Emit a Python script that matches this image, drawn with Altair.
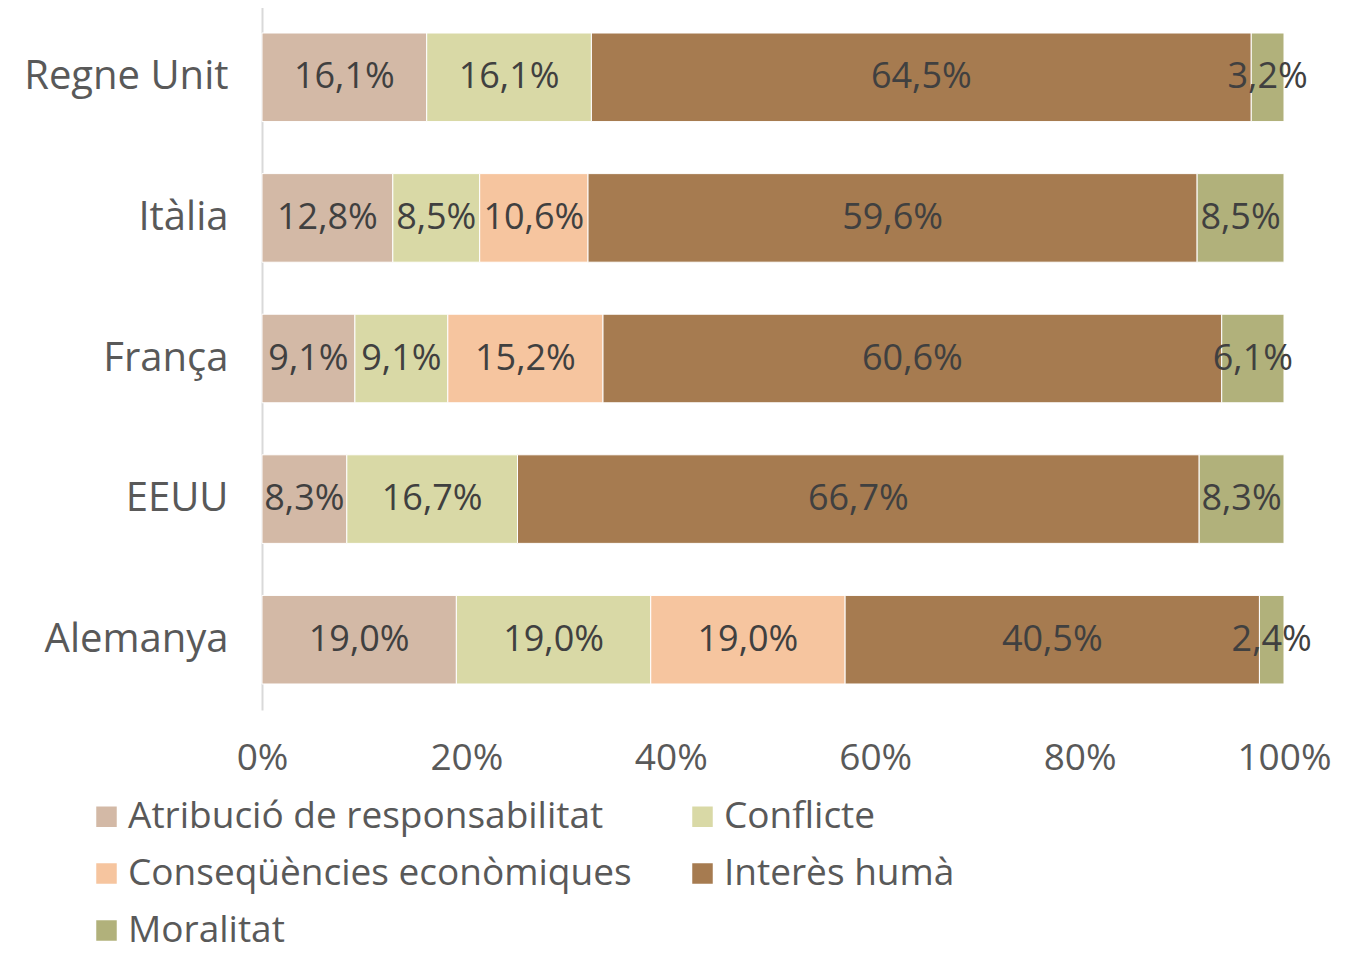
import altair as alt
import pandas as pd

countries = ["Regne Unit", "Itàlia", "França", "EEUU", "Alemanya"]
series = ["Atribució de responsabilitat", "Conflicte", "Conseqüències econòmiques", "Interès humà", "Moralitat"]
colors = ["#D3B9A6", "#D9D9A6", "#F6C59F", "#A67B50", "#B1B17B"]

atribucio = [16.1, 12.8, 9.1, 8.3, 19.0]
conflicte = [16.1, 8.5, 9.1, 16.7, 19.0]
consequencies = [0.0, 10.6, 15.2, 0.0, 19.0]
interes = [64.5, 59.6, 60.6, 66.7, 40.5]
moralitat = [3.2, 8.5, 6.1, 8.3, 2.4]

cols = [atribucio, conflicte, consequencies, interes, moralitat]
rows = []
for si, (s, vals) in enumerate(zip(series, cols)):
    for ci, (c, v) in enumerate(zip(countries, vals)):
        if v > 0:
            rows.append({"country": c, "series": s, "order": si, "value": v,
                         "label": f"{v:.1f}%".replace(".", ",")})
df = pd.DataFrame(rows)

FONT = "Open Sans"

base = alt.Chart(df).transform_stack(
    stack="value", groupby=["country"], as_=["v0", "v1"],
    offset="normalize", sort=[alt.SortField("order")]
).transform_calculate(mid="(datum.v0 + datum.v1) / 2")

yenc = alt.Y("country:N", sort=countries, title=None,
             scale=alt.Scale(paddingInner=0.37, paddingOuter=0.185),
             axis=alt.Axis(domainColor="#D9D9D9", domainWidth=2, ticks=False,
                           labelFont=FONT, labelFontSize=40, labelColor="#595959",
                           labelPadding=34, labelLimit=400))

bars = base.mark_bar(stroke="white", strokeWidth=1).encode(
    x=alt.X("v0:Q", title=None, scale=alt.Scale(domain=[0, 1], nice=False),
            axis=alt.Axis(format=".0%", values=[0, 0.2, 0.4, 0.6, 0.8, 1.0],
                          grid=False, domain=False, ticks=False, labelFlush=False,
                          labelFont=FONT, labelFontSize=37, labelColor="#595959",
                          labelPadding=30)),
    x2="v1:Q",
    y=yenc,
    color=alt.Color("series:N", sort=series,
                    scale=alt.Scale(domain=series, range=colors),
                    legend=alt.Legend(title=None, orient="none", legendX=-174, legendY=791,
                                      columns=2, direction="horizontal",
                                      symbolType="square", symbolSize=420,
                                      symbolStrokeWidth=0, labelFont=FONT,
                                      labelFontSize=37, labelColor="#595959",
                                      labelOffset=3, rowPadding=19, columnPadding=52,
                                      labelLimit=800, symbolOpacity=1)),
    order=alt.Order("order:Q"),
)

texts = base.mark_text(font=FONT, fontSize=36, color="#404040").encode(
    x="mid:Q",
    y=alt.Y("country:N", sort=countries),
    text="label:N",
)

chart = (bars + texts).properties(
    width=1022, height=703,
    autosize=alt.AutoSizeParams(type="none"),
    padding={"left": 254, "top": -1, "right": 60, "bottom": 245},
).configure_view(stroke=None)

chart.save("out.html", embed_options={"renderer": "svg", "actions": False})
